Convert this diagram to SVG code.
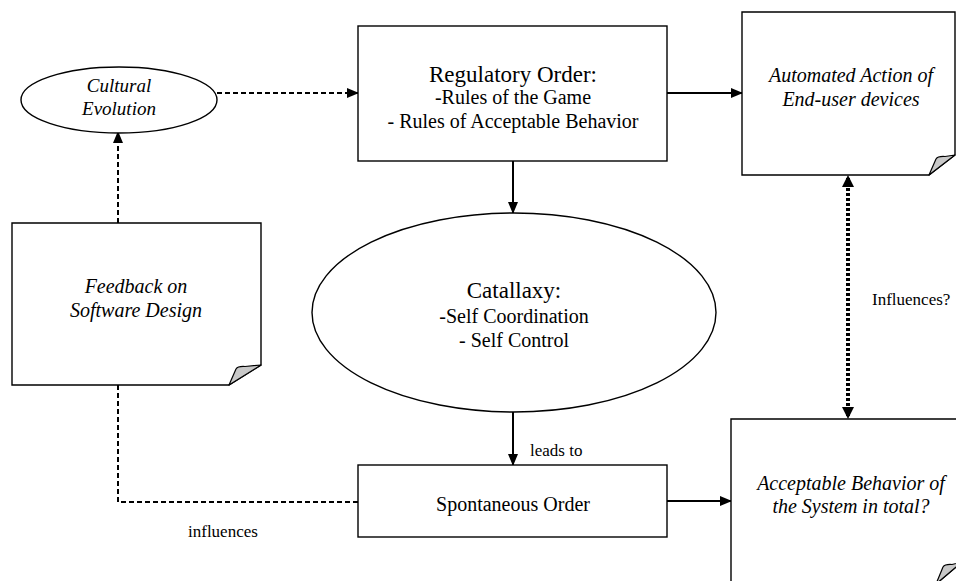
<svg xmlns="http://www.w3.org/2000/svg" width="956" height="581" viewBox="0 0 956 581">
<defs>
<marker id="ah" markerUnits="userSpaceOnUse" markerWidth="12" markerHeight="10" refX="11" refY="5" orient="auto-start-reverse">
<path d="M0,0 L12,5 L0,10 Z" fill="#000"/>
</marker>
<style>
.box{fill:#fff;stroke:#000;stroke-width:1.4}
.fold{fill:#c8c8c8;stroke:#000;stroke-width:1.2;stroke-linejoin:round}
.t{font-family:"Liberation Serif","Times New Roman",serif;fill:#000;text-anchor:middle}
.i{font-style:italic;font-size:20px}
.r{font-size:20px}
.big{font-size:23px}
.lbl{font-family:"Liberation Serif","Times New Roman",serif;font-size:17px;fill:#000}
.solid{fill:none;stroke:#000;stroke-width:2}
.dash{fill:none;stroke:#000;stroke-width:2;stroke-dasharray:5 3}
.dot{fill:none;stroke:#000;stroke-width:4;stroke-dasharray:3 2}
</style>
</defs>
<rect width="956" height="581" fill="#fff"/>

<g id="connectors">
<path class="dash" d="M217,93 H358" marker-end="url(#ah)"/>
<path class="dash" d="M118,223 V132" marker-end="url(#ah)"/>
<path class="dash" d="M118,385 V502 H358"/>
<path class="solid" d="M667,93 H742" marker-end="url(#ah)"/>
<path class="solid" d="M513,161 V213" marker-end="url(#ah)"/>
<path class="solid" d="M513,412 V465" marker-end="url(#ah)"/>
<path class="solid" d="M667,501 H731" marker-end="url(#ah)"/>
<path class="dot" d="M848,178 V416"/>
<path d="M842,187 L848,175 L854,187 Z" fill="#000"/>
<path d="M842,407 L848,419 L854,407 Z" fill="#000"/>
<text class="lbl" x="530" y="456">leads to</text>
<text class="lbl" x="872" y="305">Influences?</text>
<text class="lbl" x="188" y="537">influences</text>
</g>

<g id="cultural-evolution">
<ellipse class="box" cx="119" cy="100" rx="98" ry="33"/>
<text class="t i" x="119" y="92" style="font-size:19px">Cultural</text>
<text class="t i" x="119" y="115" style="font-size:19px">Evolution</text>
</g>

<g id="regulatory-order">
<rect class="box" x="358" y="26" width="309" height="135"/>
<text class="t big" x="513" y="82">Regulatory Order:</text>
<text class="t r" x="513" y="104">-Rules of the Game</text>
<text class="t r" x="513" y="128">- Rules of Acceptable Behavior</text>
</g>

<g id="automated-action">
<path class="box" d="M742,12 H955 V155 L929,175 H742 Z"/>
<path class="fold" d="M929,175 L936,159 Q938,156 945,156.5 L955,155 Z"/>
<text class="t i" x="851" y="82">Automated Action of</text>
<text class="t i" x="851" y="106">End-user devices</text>
</g>

<g id="feedback">
<path class="box" d="M12,223 H261 V365 L229,385 H12 Z"/>
<path class="fold" d="M229,385 L236,369 Q238,366 245,366.5 L261,365 Z"/>
<text class="t i" x="136" y="293">Feedback on</text>
<text class="t i" x="136" y="317">Software Design</text>
</g>

<g id="catallaxy">
<ellipse class="box" cx="514" cy="312.5" rx="202" ry="99.5"/>
<text class="t big" x="514" y="298">Catallaxy:</text>
<text class="t r" x="514" y="323">-Self Coordination</text>
<text class="t r" x="514" y="347">- Self Control</text>
</g>

<g id="spontaneous-order">
<rect class="box" x="358" y="465" width="309" height="72"/>
<text class="t r" x="513" y="511">Spontaneous Order</text>
</g>

<g id="acceptable-behavior">
<path class="box" d="M731,419 H962 V562 L936,584 H731 Z"/>
<path class="fold" d="M936,584 L943,567 Q945,564 952,564.5 L962,562 Z"/>
<text class="t i" x="851" y="490">Acceptable Behavior of</text>
<text class="t i" x="851" y="513">the System in total?</text>
</g>
</svg>
